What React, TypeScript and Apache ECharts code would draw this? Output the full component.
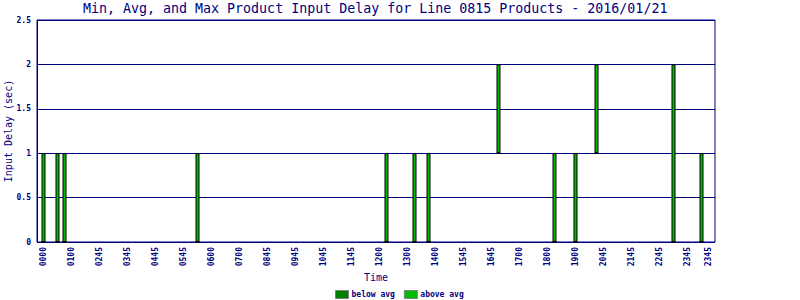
import React, { useEffect, useRef } from "react";
import * as echarts from "echarts";

const chartTitle = "Min, Avg, and Max Product Input Delay for Line 0815 Products - 2016/01/21";
const slotCount = 96;
const labelTimes = ["0000","0100","0245","0345","0445","0545","0600","0700","0845","0945","1045","1145","1200","1300","1400","1545","1645","1700","1800","1900","2045","2145","2245","2345","2345"];
const labelSlots = [0,4,8,12,16,20,24,28,32,36,40,44,48,52,56,60,64,68,72,76,80,84,88,92,95];
const barSlots = [0,2,3,22,49,53,55,65,73,76,79,90,94];
const minDelay = [0,0,0,0,0,0,0,1,0,0,1,0,0];
const avgDelay = [0,0,0,0,0,0,0,1,0,0,1,0,0];
const maxDelay = [1,1,1,1,1,1,1,2,1,1,2,2,1];
const yMin = 0;
const yMax = 2.5;
const yStep = 0.5;

const NAVY = "#000080";
const FONT = "DejaVu Sans Mono";

export default function App() {
  const ref = useRef<HTMLDivElement>(null);
  useEffect(() => {
    if (!ref.current) return;
    const chart = echarts.init(ref.current, null, { renderer: "svg" });

    const categories: string[] = [];
    for (let i = 0; i < slotCount; i++) categories.push("");
    labelSlots.forEach((s, k) => { categories[s] = labelTimes[k]; });
    const isLabel = (i: number) => labelSlots.indexOf(i) >= 0;

    const baseData: (number | string)[] = categories.map(() => "-");
    const belowData: (number | string)[] = categories.map(() => "-");
    const aboveData: (number | string)[] = categories.map(() => "-");
    barSlots.forEach((s, i) => {
      baseData[s] = minDelay[i];
      belowData[s] = avgDelay[i] - minDelay[i];
      aboveData[s] = maxDelay[i] - avgDelay[i];
    });

    chart.setOption({
      animation: false,
      backgroundColor: "#ffffff",
      title: {
        text: chartTitle,
        left: 83,
        top: 2,
        padding: 0,
        textStyle: { color: NAVY, fontFamily: FONT, fontSize: 13.3, fontWeight: "normal" },
      },
      legend: {
        data: ["below avg", "above avg"],
        left: 335,
        top: 290,
        padding: 0,
        itemWidth: 13,
        itemHeight: 8,
        itemGap: 9,
        icon: "rect",
        itemStyle: { borderColor: "#808080", borderWidth: 1 },
        textStyle: { color: NAVY, fontFamily: FONT, fontSize: 8, fontWeight: "bold", padding: [0, 0, 0, -2] },
      },
      grid: [
        { left: 40, right: 88, top: 20, bottom: 58, show: false, containLabel: false, outerBoundsMode: "none" },
        { left: 37, right: 85, top: 20, bottom: 58, show: true, borderColor: NAVY, borderWidth: 1, containLabel: false, outerBoundsMode: "none" },
      ],
      xAxis: [
        {
          type: "category",
          gridIndex: 0,
          data: categories,
          boundaryGap: true,
          name: "Time",
          nameLocation: "middle",
          nameGap: 30,
          nameMoveOverlap: false,
          nameTextStyle: { color: NAVY, fontFamily: FONT, fontSize: 10 },
          axisLine: { show: false },
          axisTick: { show: false },
          splitLine: { show: false },
          axisLabel: {
            interval: (i: number) => isLabel(i),
            rotate: 90,
            margin: 5,
            color: NAVY,
            fontFamily: FONT,
            fontSize: 8,
            fontWeight: "bold",
          },
        },
        {
          type: "value",
          gridIndex: 1,
          min: 0,
          max: 1,
          show: false,
        },
      ],
      yAxis: [
        {
          type: "value",
          gridIndex: 0,
          min: yMin,
          max: yMax,
          interval: yStep,
          show: false,
        },
        {
          type: "value",
          gridIndex: 1,
          min: yMin,
          max: yMax,
          interval: yStep,
          name: "Input Delay (sec)",
          nameLocation: "middle",
          nameGap: 24,
          nameMoveOverlap: false,
          nameTextStyle: { color: NAVY, fontFamily: FONT, fontSize: 10 },
          axisLine: { show: true, onZero: false, lineStyle: { color: NAVY, width: 1 } },
          axisTick: { show: false },
          splitLine: { show: true, lineStyle: { color: NAVY, width: 1 } },
          axisLabel: {
            margin: 6,
            color: NAVY,
            fontFamily: FONT,
            fontSize: 8,
            fontWeight: "bold",
            formatter: (v: number) => String(v),
          },
        },
      ],
      series: [
        {
          name: "base",
          type: "bar",
          xAxisIndex: 0,
          yAxisIndex: 0,
          stack: "delay",
          barWidth: 4,
          data: baseData,
          itemStyle: { color: "rgba(0,0,0,0)" },
          silent: true,
        },
        {
          name: "below avg",
          type: "bar",
          xAxisIndex: 0,
          yAxisIndex: 0,
          stack: "delay",
          barWidth: 4,
          data: belowData,
          itemStyle: { color: "#008000", borderColor: "#000000", borderWidth: 1 },
        },
        {
          name: "above avg",
          type: "bar",
          xAxisIndex: 0,
          yAxisIndex: 0,
          stack: "delay",
          barWidth: 4,
          data: aboveData,
          itemStyle: { color: "#00bb00", borderColor: "#000000", borderWidth: 1 },
        },
      ],
    });
    return () => chart.dispose();
  }, []);
  return <div ref={ref} style={{ width: 800, height: 300, position: "absolute", left: 0, top: 0 }} />;
}
